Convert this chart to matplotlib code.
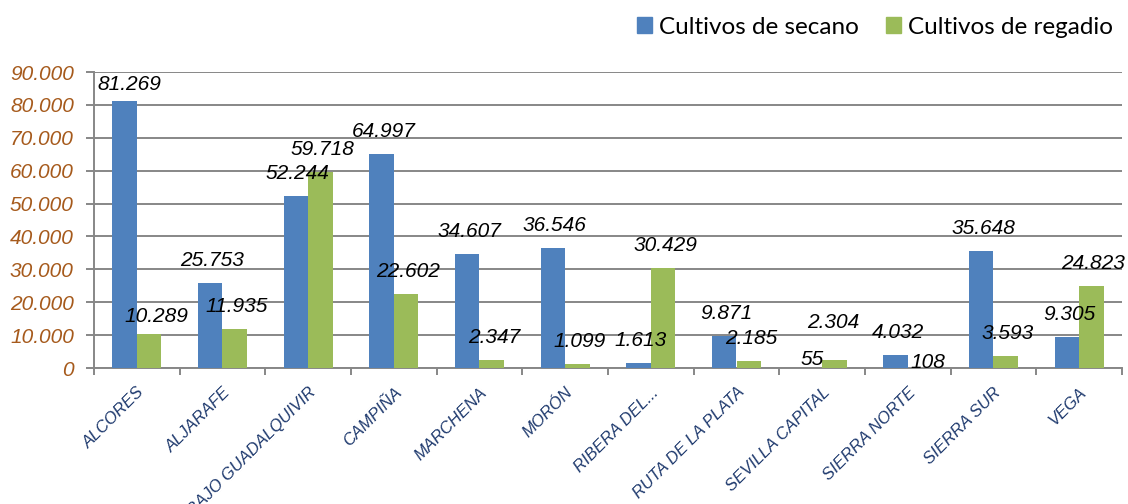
import matplotlib
matplotlib.use("Agg")
import matplotlib.pyplot as plt
from matplotlib.patches import Patch
import numpy as np

comarcas = ["ALCORES", "ALJARAFE", "BAJO GUADALQUIVIR", "CAMPIÑA", "MARCHENA",
            "MORÓN", "RIBERA DEL...", "RUTA DE LA PLATA", "SEVILLA CAPITAL",
            "SIERRA NORTE", "SIERRA SUR", "VEGA"]
secano = [81269, 25753, 52244, 64997, 34607, 36546, 1613, 9871, 55, 4032, 35648, 9305]
regadio = [10289, 11935, 59718, 22602, 2347, 1099, 30429, 2185, 2304, 108, 3593, 24823]
marcas_y = list(range(0, 90001, 10000))

AZUL = "#4F81BD"
VERDE = "#9BBB59"
GRIS = "#878787"


def fmt(v):
    # separador de miles con punto
    return f"{v:,}".replace(",", ".")


fig = plt.figure(figsize=(11.28, 5.04), dpi=100)
ax = fig.add_axes([94 / 1128, 1 - 368 / 504, (1122 - 94) / 1128, 296 / 504])

x = np.arange(len(comarcas))
ancho = 0.286
barras_s = ax.bar(x - ancho / 2, secano, ancho, color=AZUL, zorder=3)
barras_r = ax.bar(x + ancho / 2, regadio, ancho, color=VERDE, zorder=3)

ax.set_xlim(-0.5, len(comarcas) - 0.5)
ax.set_ylim(0, 90000)
ax.set_yticks(marcas_y)
ax.set_yticklabels([fmt(v) for v in marcas_y], fontsize=15, style="italic",
                   color="#A65A1C", family="Liberation Sans")
ax.yaxis.grid(True, color=GRIS, lw=1.4, zorder=0)
ax.set_axisbelow(True)
for s in ["top", "right"]:
    ax.spines[s].set_visible(False)
for s in ["left", "bottom"]:
    ax.spines[s].set_color(GRIS)
    ax.spines[s].set_linewidth(1.4)
ax.tick_params(axis="y", length=6, width=1.4, color=GRIS, pad=8.5)

# marcas entre categorias, etiquetas en el centro
ax.set_xticks(np.arange(-0.5, len(comarcas), 1))
ax.set_xticklabels([])
ax.set_xticks(x, minor=True)
ax.set_xticklabels(comarcas, minor=True, rotation=45, ha="right", va="top",
                   rotation_mode="anchor", fontsize=12, style="italic",
                   color="#1F3A6E", family="Liberation Sans")
ax.tick_params(axis="x", which="major", length=5, width=1.4, color=GRIS)
ax.tick_params(axis="x", which="minor", length=0, pad=12)

# desplazamiento de las etiquetas de valor (pixeles)
normal = (2, 22.5)
especiales = {("s", 0): (5, 16), ("s", 8): (2, 8),
              ("r", 0): (7.5, 18), ("r", 8): (-1.4, 38.4), ("r", 9): (8, 5.6)}

for serie, barras, valores in [("s", barras_s, secano), ("r", barras_r, regadio)]:
    for i, (b, v) in enumerate(zip(barras, valores)):
        dx, dy = especiales.get((serie, i), normal)
        ax.annotate(fmt(v), (b.get_x() + b.get_width() / 2, v),
                    xytext=(dx, dy), textcoords="offset pixels",
                    ha="center", va="center", fontsize=15, style="italic",
                    family="Liberation Sans", color="black", zorder=5,
                    annotation_clip=False)

fig.legend(handles=[Patch(color=AZUL, label="Cultivos de secano"),
                    Patch(color=VERDE, label="Cultivos de regadio")],
           loc="center right", bbox_to_anchor=(1113 / 1128, 1 - 27 / 504),
           ncol=2, frameon=False, prop={"family": "Lato", "size": 17.5},
           handlelength=0.62, handleheight=0.62, handletextpad=0.3,
           columnspacing=1.1, borderpad=0, borderaxespad=0)

fig.savefig("out.png", dpi=100)
